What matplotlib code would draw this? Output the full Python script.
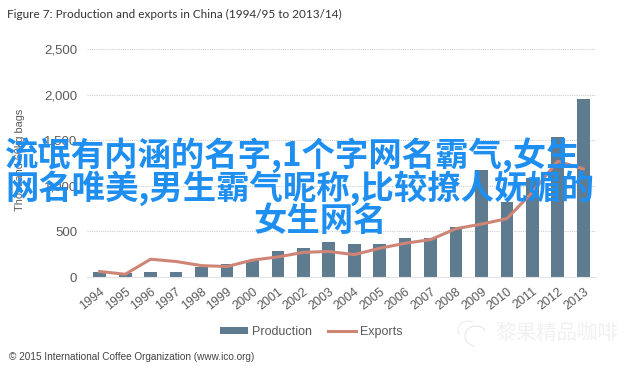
"""
Production and exports in China, with the blue headline over the chart
"""
import matplotlib
matplotlib.use('Agg')
import matplotlib.pyplot as plt
from matplotlib.patches import Arc

years = [str(y) for y in range(1994, 2014)]
production = [55, 45, 50, 60, 105, 140, 185, 285, 320, 385,
              360, 360, 425, 430, 550, 1170, 820, 1085, 1535, 1950]
exports = [60, 30, 195, 170, 125, 115, 185, 220, 270, 280,
           245, 315, 370, 410, 530, 580, 640, 930, 1270, 1185]
y_ticks = [0, 500, 1000, 1500, 2000, 2500]
y_labels = ['0', '500', '1,000', '1,500', '2,000', '2,500']
headline = ['流氓有内涵的名字,1个字网名霸气,女生',
            '网名唯美,男生霸气昵称,比较撩人妩媚的',
            '女生网名']
headline_x = [292.5, 300, 320]
headline_y = [155, 188, 221]

W, H = 640, 366
bar_color = '#5f7b8f'
line_color = '#cf8576'
grey = '#5a5a5a'

fig = plt.figure(figsize=(W / 100, H / 100), dpi=100)
ax = fig.add_axes([87 / W, 1 - 277 / H, 509 / W, 228 / H])

x = range(len(years))
bars = ax.bar(x, production, 0.5, color=bar_color, zorder=2)
line, = ax.plot(x, exports, color=line_color, lw=2.2, zorder=3)

ax.set_xlim(-0.5, 19.5)
ax.set_ylim(0, 2500)
ax.set_yticks(y_ticks)
ax.set_yticklabels(y_labels, family='Liberation Sans', fontsize=9.5, color=grey)
ax.set_xticks(list(x))
ax.set_xticklabels(years, rotation=38, ha='right', rotation_mode='anchor',
                   family='Liberation Sans', fontsize=9, color=grey)
ax.tick_params(length=0, pad=7)
ax.tick_params(axis='x', pad=6)
ax.grid(axis='y', color='#cfcfcf', lw=0.8, ls=(0, (1, 1)), zorder=0)
for name in ['top', 'right', 'left']:
    ax.spines[name].set_visible(False)
ax.spines['bottom'].set_color('#e4e4e4')
fig.text(20 / W, 1 - 160 / H, 'Thousand 60kg bags', family='Liberation Sans', fontsize=7.8,
         color=grey, rotation=90, ha='center', va='center')

fig.text(7 / W, 1 - 14 / H, 'Figure 7: Production and exports in China (1994/95 to 2013/14)',
         family='Lato', fontsize=8.5, color='#333333', va='center')
fig.text(9 / W, 1 - 357 / H, '© 2015 International Coffee Organization (www.ico.org)',
         family='Liberation Sans', fontsize=7.2, color='#444444', va='center')

fig.legend([bars, line], ['Production', 'Exports'], loc='center',
           bbox_to_anchor=(311.5 / W, 1 - 332 / H), ncol=2, frameon=False,
           prop={'family': 'Liberation Sans', 'size': 9}, labelcolor=grey,
           handlelength=2.2, handleheight=0.5, handletextpad=0.35, columnspacing=1.3)

# faded watermark
icon = fig.add_axes([0, 0, 1, 1], facecolor='none', xlim=(0, W), ylim=(H, 0))
icon.axis('off')
icon.add_patch(Arc((476, 336), 22, 20, color='#e6e6e6', lw=0.8, theta1=100, theta2=330))
icon.add_patch(Arc((468, 330), 20, 18, color='#eeeeee', lw=0.8, theta1=150, theta2=300))
fig.text(495 / W, 1 - 333 / H, '黎果精品咖啡', family='Noto Sans CJK SC', fontsize=14.8,
         color='#f1f1f1', va='center', ha='left')

for text_line, tx, ty in zip(headline, headline_x, headline_y):
    fig.text(tx / W, 1 - ty / H, text_line, family='Noto Sans CJK SC', fontsize=24,
             weight='bold', color='#1e8ff0', ha='center', va='center')

fig.savefig('out.png', dpi=100)
